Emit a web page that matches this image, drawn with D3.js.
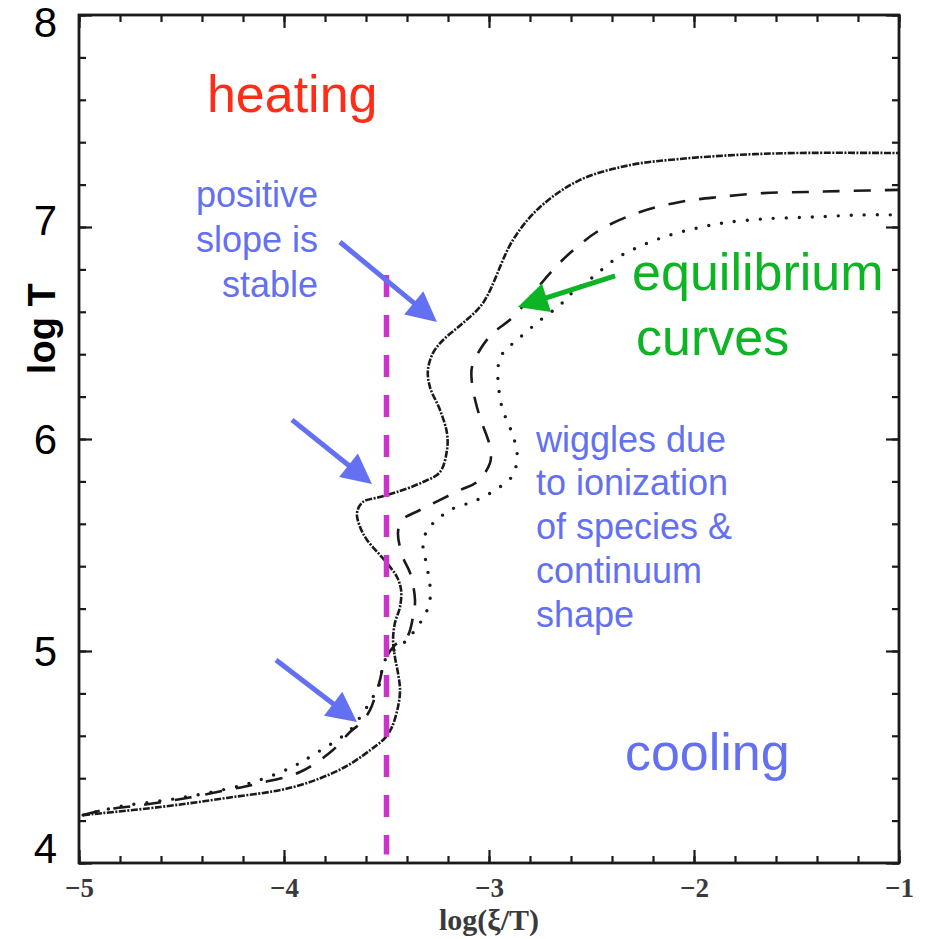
<!DOCTYPE html>
<html><head><meta charset="utf-8">
<script src="https://cdn.jsdelivr.net/npm/d3@7"></script>
<style>body{margin:0;background:#fff}</style>
</head><body>
<svg id="chart" width="926" height="939"></svg>
<script>
// ---------- data ----------
const xDomain = [-5, -1];
const yDomain = [4, 8];
const xMajorTicks = [-5, -4, -3, -2, -1];
const xTickLabels = ["\u22125", "\u22124", "\u22123", "\u22122", "\u22121"];
const yMajorTicks = [4, 5, 6, 7, 8];
const yTickLabels = ["4", "5", "6", "7", "8"];
const xTitle = "log(\u03BE/T)";
const yTitle = "log T";

// curve 1 (top, fine dash-dot, nearly solid)
const curveSolid = [
  [-4.98,4.226],[-4.605,4.264],[-4.278,4.307],[-3.956,4.358],[-3.712,4.448],[-3.546,4.557],
  [-3.507,4.590],[-3.473,4.642],[-3.444,4.736],[-3.434,4.816],[-3.444,4.896],[-3.459,4.972],
  [-3.468,5.052],[-3.459,5.132],[-3.434,5.208],[-3.429,5.288],[-3.449,5.349],[-3.498,5.415],
  [-3.595,5.524],[-3.629,5.585],[-3.644,5.651],[-3.615,5.703],[-3.532,5.726],[-3.449,5.750],
  [-3.322,5.797],[-3.239,5.844],[-3.205,5.948],[-3.205,6.028],[-3.239,6.137],[-3.288,6.245],
  [-3.298,6.325],[-3.273,6.406],[-3.224,6.467],[-3.127,6.547],[-3.029,6.642],[-2.883,6.939],
  [-2.751,7.094],[-2.556,7.222],[-2.312,7.292],[-2.068,7.321],[-1.790,7.340],[-1.498,7.349],
  [-1.0,7.349]
];
// curve 2 (dashed)
const curveDashed = [
  [-4.98,4.226],[-4.883,4.250],[-4.688,4.274],[-4.473,4.307],[-4.278,4.344],[-4.117,4.377],
  [-3.922,4.429],[-3.761,4.533],[-3.678,4.618],[-3.620,4.665],[-3.580,4.722],[-3.556,4.783],
  [-3.532,4.863],[-3.507,4.958],[-3.459,5.028],[-3.400,5.066],[-3.371,5.160],[-3.361,5.241],
  [-3.385,5.368],[-3.420,5.443],[-3.444,5.557],[-3.424,5.618],[-3.337,5.665],[-3.141,5.759],
  [-3.059,5.797],[-2.995,5.887],[-2.995,5.962],[-3.034,6.075],[-3.059,6.151],[-3.083,6.264],
  [-3.083,6.340],[-3.029,6.443],[-2.980,6.500],[-2.883,6.575],[-2.702,6.783],[-2.605,6.877],
  [-2.459,6.986],[-2.263,7.071],[-2.068,7.118],[-1.873,7.142],[-1.663,7.160],[-1.449,7.165],
  [-1.254,7.170],[-1.0,7.175]
];
// curve 3 (dotted)
const curveDotted = [
  [-4.98,4.226],[-4.785,4.269],[-4.571,4.297],[-4.376,4.330],[-4.166,4.377],[-3.971,4.448],
  [-3.859,4.509],[-3.678,4.627],[-3.615,4.708],[-3.566,4.783],[-3.532,4.849],[-3.522,4.910],
  [-3.498,4.972],[-3.400,5.052],[-3.351,5.113],[-3.312,5.170],[-3.288,5.241],[-3.288,5.311],
  [-3.298,5.373],[-3.312,5.443],[-3.322,5.491],[-3.302,5.571],[-3.254,5.618],[-3.190,5.665],
  [-3.059,5.712],[-2.946,5.774],[-2.883,5.830],[-2.863,5.934],[-2.888,6.028],[-2.937,6.151],
  [-2.956,6.278],[-2.956,6.340],[-2.932,6.406],[-2.863,6.467],[-2.761,6.552],[-2.654,6.632],
  [-2.595,6.689],[-2.493,6.764],[-2.376,6.854],[-2.249,6.915],[-2.117,6.962],[-1.985,6.995],
  [-1.859,7.019],[-1.663,7.038],[-1.420,7.047],[-1.176,7.057],[-1.0,7.057]
];

// vertical marker line
const markerX = -3.5;
const markerYRange = [4.04, 6.774];

// arrows: [tailX, tailY, tipX, tipY]
const blueArrows = [
  [-3.727, 6.929, -3.254, 6.552],
  [-3.961, 6.090, -3.571, 5.788],
  [-4.039, 4.958, -3.644, 4.665]
];
const greenArrows = [
  [-2.385, 6.769, -2.859, 6.623]
];

// text annotations: [text, x, y]
const heatingText = [["heating", -4.376, 7.542]];
const stableText = [["positive", -3.834, 7.094], ["slope is", -3.834, 6.882], ["stable", -3.834, 6.670]];
const equilText = [["equilibrium", -2.302, 6.703], ["curves", -2.283, 6.396]];
const wiggleText = [["wiggles due", -2.771, 5.939], ["to ionization", -2.771, 5.736],
  ["of species &", -2.771, 5.528], ["continuum", -2.771, 5.321], ["shape", -2.771, 5.113]];
const coolingText = [["cooling", -2.337, 4.439]];

// ---------- drawing ----------
const svg = d3.select("#chart");
svg.append("rect").attr("width", 926).attr("height", 939).attr("fill", "#fff");

const x = d3.scaleLinear().domain(xDomain).range([79, 899]);
const y = d3.scaleLinear().domain(yDomain).range([863, 15]);

const minorX = d3.range(-5, -0.999, 0.2).map(v => +v.toFixed(2));
const minorY = d3.range(4, 8.001, 0.2).map(v => +v.toFixed(2));

const axisColor = "#1a1a1a";
function styleAxis(g) {
  g.select(".domain").remove();
  g.selectAll("line").attr("stroke", axisColor).attr("stroke-width", 2.2);
}

// minor ticks all sides (inward)
svg.append("g").attr("transform", `translate(0,${y(4)})`)
  .call(d3.axisBottom(x).tickValues(minorX).tickSize(-7).tickFormat("")).call(styleAxis);
svg.append("g").attr("transform", `translate(0,${y(8)})`)
  .call(d3.axisTop(x).tickValues(minorX).tickSize(-7).tickFormat("")).call(styleAxis);
svg.append("g").attr("transform", `translate(${x(-5)},0)`)
  .call(d3.axisLeft(y).tickValues(minorY).tickSize(-7).tickFormat("")).call(styleAxis);
svg.append("g").attr("transform", `translate(${x(-1)},0)`)
  .call(d3.axisRight(y).tickValues(minorY).tickSize(-7).tickFormat("")).call(styleAxis);

// major ticks
const bottomMajor = svg.append("g").attr("transform", `translate(0,${y(4)})`)
  .call(d3.axisBottom(x).tickValues(xMajorTicks).tickSize(-13).tickPadding(15)
    .tickFormat((d, i) => xTickLabels[i])).call(styleAxis);
bottomMajor.selectAll("text")
  .attr("font-family", "'Liberation Serif', 'DejaVu Serif', serif")
  .attr("font-size", 27).attr("font-weight", "bold").attr("fill", "#3a3a3a");
svg.append("g").attr("transform", `translate(0,${y(8)})`)
  .call(d3.axisTop(x).tickValues(xMajorTicks).tickSize(-13).tickFormat("")).call(styleAxis);
svg.append("g").attr("transform", `translate(${x(-5)},0)`)
  .call(d3.axisLeft(y).tickValues(yMajorTicks).tickSize(-13).tickFormat("")).call(styleAxis);
svg.append("g").attr("transform", `translate(${x(-1)},0)`)
  .call(d3.axisRight(y).tickValues(yMajorTicks).tickSize(-13).tickFormat("")).call(styleAxis);

// frame
svg.append("rect")
  .attr("x", x(-5)).attr("y", y(8))
  .attr("width", x(-1) - x(-5)).attr("height", y(4) - y(8))
  .attr("fill", "none").attr("stroke", axisColor).attr("stroke-width", 2.8);

// big y tick labels
svg.append("g").selectAll("text").data(yMajorTicks).join("text")
  .attr("x", 57)
  .attr("y", d => Math.min(848, Math.max(22, y(d) - (d === 7 ? 7 : 0))))
  .attr("text-anchor", "end").attr("dominant-baseline", "central")
  .attr("font-family", "'Liberation Sans', Arial, sans-serif")
  .attr("font-size", 42).attr("fill", "#000")
  .text((d, i) => yTickLabels[i]);

// y title
svg.append("text")
  .attr("transform", `translate(55,${y(6.52)}) rotate(-90)`)
  .attr("text-anchor", "middle")
  .attr("font-family", "'Liberation Sans', Arial, sans-serif")
  .attr("font-weight", "bold").attr("font-size", 38).attr("fill", "#000")
  .text(yTitle);

// x title
svg.append("text")
  .attr("x", x(-3)).attr("y", 930)
  .attr("text-anchor", "middle")
  .attr("font-family", "'Liberation Serif', 'DejaVu Serif', serif")
  .attr("font-size", 30).attr("font-weight", "bold").attr("fill", "#3a3a3a")
  .text(xTitle);

// curves
const line = d3.line().x(d => x(d[0])).y(d => y(d[1])).curve(d3.curveCatmullRom.alpha(0.5));
svg.append("path").datum(curveDotted).attr("d", line)
  .attr("fill", "none").attr("stroke", "#1a1a1a").attr("stroke-width", 3.4)
  .attr("stroke-linecap", "round").attr("stroke-dasharray", "0,13");
svg.append("path").datum(curveDashed).attr("d", line)
  .attr("fill", "none").attr("stroke", "#1a1a1a").attr("stroke-width", 2.6)
  .attr("stroke-dasharray", "17,14");
svg.append("path").datum(curveSolid).attr("d", line)
  .attr("fill", "none").attr("stroke", "#1a1a1a").attr("stroke-width", 2.6)
  .attr("stroke-dasharray", "7,1.5,2,1.5");

// magenta marker
svg.append("line")
  .attr("x1", x(markerX)).attr("x2", x(markerX))
  .attr("y1", y(markerYRange[1])).attr("y2", y(markerYRange[0]))
  .attr("stroke", "#cc33cc").attr("stroke-width", 5.5).attr("stroke-dasharray", "22,18");

// arrows
function drawArrows(data, color) {
  const g = svg.append("g");
  data.forEach(a => {
    const x0 = x(a[0]), y0 = y(a[1]), x1 = x(a[2]), y1 = y(a[3]);
    const ang = Math.atan2(y1 - y0, x1 - x0);
    const headL = 30, headW = 15;
    const bx = x1 - headL * Math.cos(ang), by = y1 - headL * Math.sin(ang);
    g.append("line").attr("x1", x0).attr("y1", y0).attr("x2", bx + 2 * Math.cos(ang)).attr("y2", by + 2 * Math.sin(ang))
      .attr("stroke", color).attr("stroke-width", 5);
    const px = -Math.sin(ang), py = Math.cos(ang);
    g.append("path")
      .attr("d", `M${x1},${y1}L${bx + headW * px},${by + headW * py}L${bx - headW * px},${by - headW * py}Z`)
      .attr("fill", color);
  });
}
drawArrows(blueArrows, "#6470f2");
drawArrows(greenArrows, "#0db423");

// annotations
function drawText(data, color, size, anchor) {
  svg.append("g").selectAll("text").data(data).join("text")
    .attr("x", d => x(d[1])).attr("y", d => y(d[2]))
    .attr("text-anchor", anchor)
    .attr("font-family", "'Liberation Sans', Arial, sans-serif")
    .attr("font-size", size).attr("fill", color)
    .text(d => d[0]);
}
drawText(heatingText, "#ff2d17", 52, "start");
drawText(stableText, "#6470f2", 36, "end");
drawText(equilText, "#0db423", 52, "start");
drawText(wiggleText, "#6470f2", 36, "start");
drawText(coolingText, "#6470f2", 52, "start");
</script>
</body></html>
